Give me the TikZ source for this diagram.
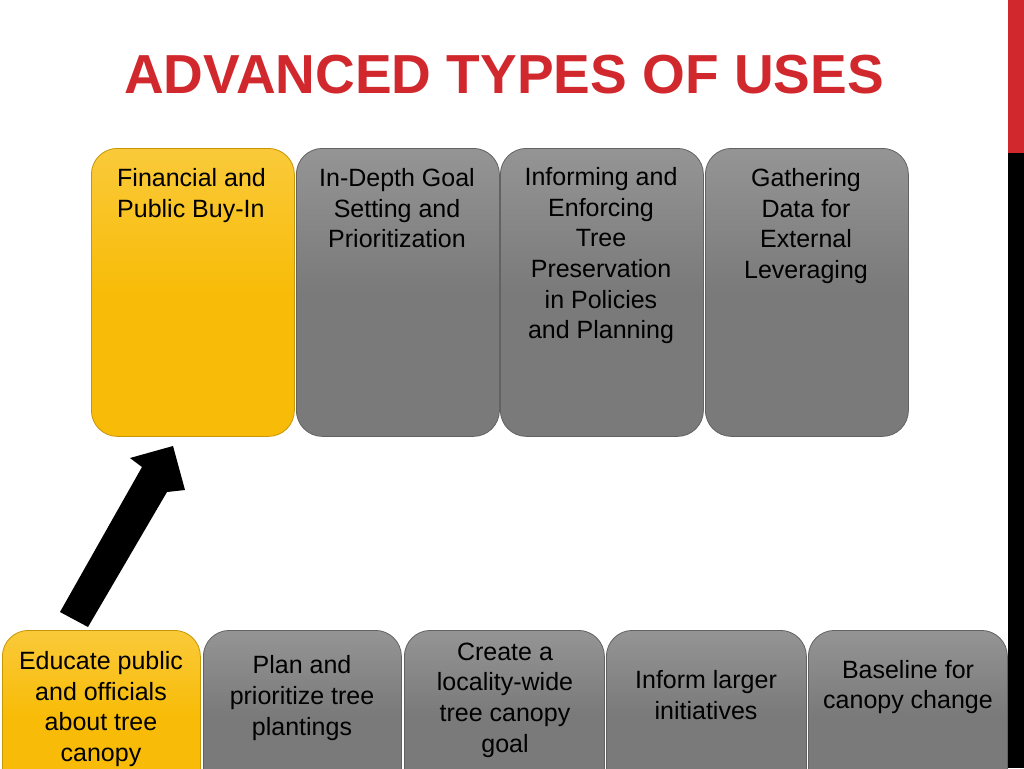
\documentclass[tikz,border=0pt]{standalone}
\usepackage{fontspec}
\setmainfont{Liberation Sans}
\begin{document}
\begin{tikzpicture}[x=1pt,y=-1pt,
  box/.style={draw=#1!80!black,line width=0.8pt,rounded corners=26pt,inner sep=0pt,anchor=north west},
  ybox/.style={box=yel,top color=yel!80!white,bottom color=yel,middle color=yel},
  gbox/.style={box=gry,top color=gry!80!white,bottom color=gry,middle color=gry},
  txt/.style={font=\fontsize{25}{30.7}\selectfont,align=center,inner sep=0pt}]
\definecolor{yel}{HTML}{F8BC08}
\definecolor{gry}{HTML}{7A7A7A}
\definecolor{ttl}{HTML}{D1282E}
\useasboundingbox (0,0) rectangle (1024,768);
\clip (0,0) rectangle (1024,768);
\fill[ttl] (1008,0) rectangle (1024,153);
\fill[black] (1008,153) rectangle (1024,768);
\node[font=\fontsize{55}{58}\selectfont\bfseries,text=ttl] (title) at (504,75) {ADVANCED TYPES OF USES};
% top row
\foreach \n/\x/\s in {t1/91/ybox,t2/296/gbox,t3/500/gbox,t4/705/gbox}{
  \node[\s,minimum width=203pt,minimum height=288pt] (\n) at (\x,148) {};}
\node[txt,align=left,anchor=north west] (tx1) at (117,168) {Financial and\\Public Buy-In};
\node[txt,anchor=north] (tx2) at (397,168) {In-Depth Goal\\Setting and\\Prioritization};
\node[txt,anchor=north] (tx3) at (601,167) {Informing and\\Enforcing\\Tree\\Preservation\\in Policies\\and Planning};
\node[txt,anchor=north] (tx4) at (806,168) {Gathering\\Data for\\External\\Leveraging};
% bottom row
\node[ybox,minimum width=198pt,minimum height=170pt] (b1) at (2,630) {};
\node[gbox,minimum width=198pt,minimum height=170pt] (b2) at (203,630) {};
\node[gbox,minimum width=200pt,minimum height=170pt] (b3) at (404,630) {};
\node[gbox,minimum width=200pt,minimum height=170pt] (b4) at (606,630) {};
\node[gbox,minimum width=199pt,minimum height=170pt] (b5) at (808,630) {};
\node[txt] (bx1) at (101,709) {Educate public\\and officials\\about tree\\canopy};
\node[txt] (bx2) at (302,698) {Plan and\\prioritize tree\\plantings};
\node[txt] (bx3) at (505,700) {Create a\\locality-wide\\tree canopy\\goal};
\node[txt] (bx4) at (706,695) {Inform larger\\initiatives};
\node[txt] (bx5) at (908,687) {Baseline for\\canopy change};
% arrow
\fill[black] (60,612) -- (88,627) -- (167,492) -- (185,490) -- (173,446) -- (130,458) -- (142,467) -- cycle;
\end{tikzpicture}
\end{document}
